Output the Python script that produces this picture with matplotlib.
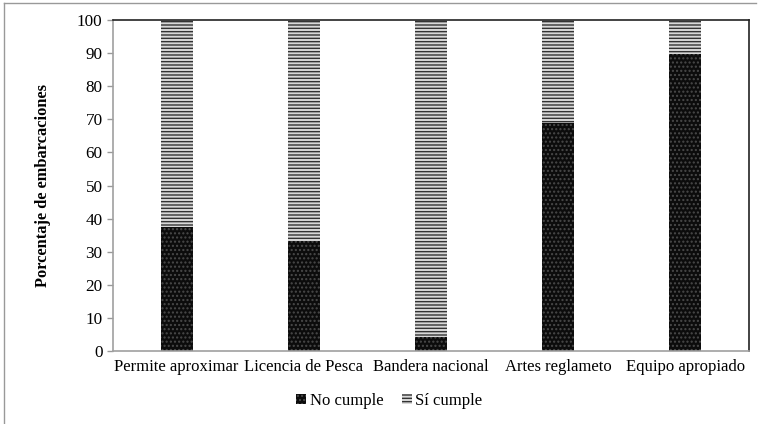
import matplotlib.pyplot as plt
import numpy as np

categorias = ["Permite aproximar", "Licencia de Pesca", "Bandera nacional",
              "Artes reglameto", "Equipo apropiado"]
no_cumple = [37.5, 33.3, 4.2, 68.8, 89.6]
si_cumple = [62.5, 66.7, 95.8, 31.2, 10.4]

plt.rcParams['font.family'] = ['Liberation Serif', 'DejaVu Serif']
plt.rcParams['hatch.linewidth'] = 1.0

fig = plt.figure(figsize=(7.6, 4.24), dpi=100)
ax = fig.add_axes([0.1487, 0.1722, 0.8368, 0.7806])

index = np.arange(len(categorias))
bar_width = 0.25

ax.bar(index, no_cumple, bar_width, color='#0c0c0c', edgecolor='#4a4a4a',
       linewidth=0, hatch='....', label='No cumple')
ax.bar(index, si_cumple, bar_width, bottom=no_cumple, color='#d8d8d8',
       edgecolor='#333333', linewidth=0, hatch='-----', label='Sí cumple')

ax.set_xlim(-0.5, len(categorias) - 0.5)
ax.set_ylim(0, 100)
ax.set_yticks(np.arange(0, 101, 10))
ax.set_xticks(index)
ax.set_xticklabels(categorias, fontsize=12)
ax.tick_params(axis='y', labelsize=12.3, color='#999999', length=4, width=1)
ax.tick_params(axis='x', length=0, pad=6)
ax.set_ylabel('Porcentaje de embarcaciones', fontsize=11.8, fontweight='bold',
              labelpad=19)

for s in ['left', 'bottom']:
    ax.spines[s].set_color('#a0a0a0')
    ax.spines[s].set_linewidth(1.2)
for s in ['top', 'right']:
    ax.spines[s].set_color('#222222')
    ax.spines[s].set_linewidth(1.2)

leg = ax.legend(loc='center', bbox_to_anchor=(0.512, 0.055),
                bbox_transform=fig.transFigure, ncol=2,
                frameon=False, fontsize=12, handlelength=0.6, handleheight=0.6,
                handletextpad=0.2, columnspacing=1.1)

# borde de la figura
fig.add_artist(plt.Line2D([0.005, 0.995], [0.994, 0.994], color='#999999', lw=1))
fig.add_artist(plt.Line2D([0.005, 0.005], [0.0, 0.994], color='#999999', lw=1))

plt.savefig('out.png', dpi=100)
